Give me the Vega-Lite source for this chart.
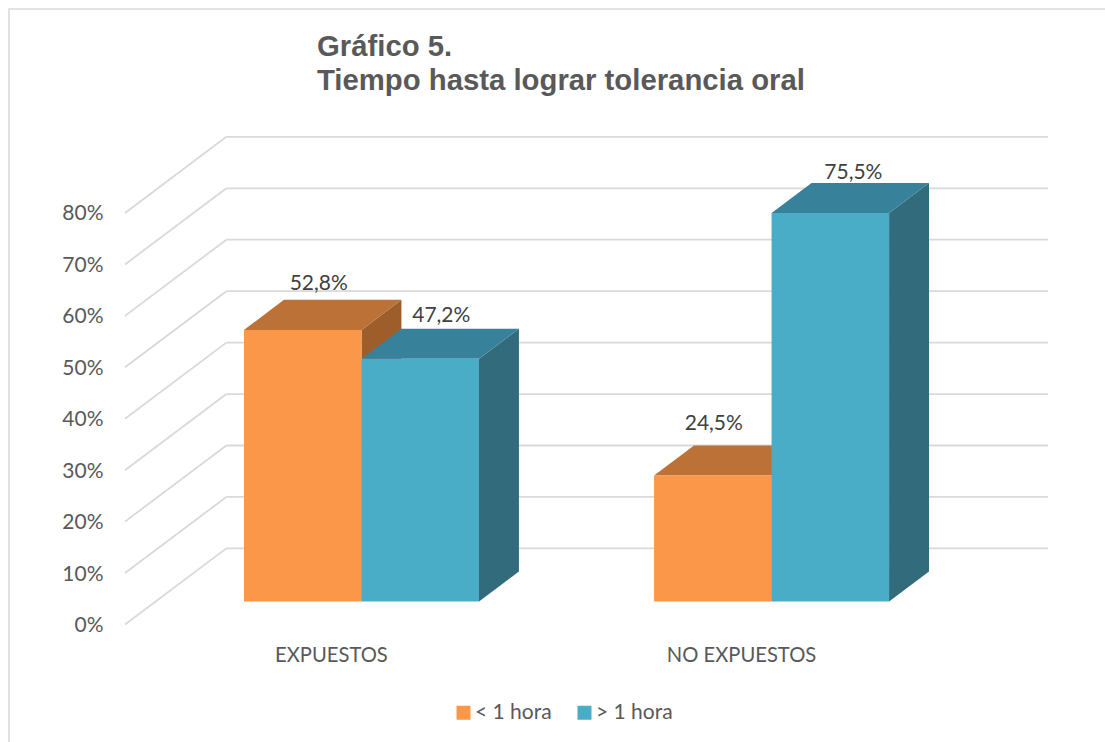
{"$schema":"https://vega.github.io/schema/vega-lite/v6.json","autosize":{"type":"none"},"padding":{"left":9,"top":9,"right":0,"bottom":0},"width":1100,"height":740,"background":"#ffffff","view":{"stroke":"#d9d9d9","strokeWidth":1.5,"fill":"#ffffff"},"title":{"text":["Gráfico 5.","Tiempo hasta lograr tolerancia oral"],"anchor":"start","frame":"group","baseline":"alphabetic","dx":308,"dy":110,"offset":0,"font":"Liberation Sans","fontSize":29.3,"fontWeight":"bold","color":"#595959","lineHeight":34},"data":{"values":[{"group":"EXPUESTOS","series":"< 1 hora","value":52.8},{"group":"EXPUESTOS","series":"> 1 hora","value":47.2},{"group":"NO EXPUESTOS","series":"< 1 hora","value":24.5},{"group":"NO EXPUESTOS","series":"> 1 hora","value":75.5}]},"transform":[{"calculate":"(datum.group==='EXPUESTOS'?2:5.49)+(datum.series==='< 1 hora'?0:1)","as":"left"},{"calculate":"datum.left+1","as":"right"},{"calculate":"4.47","as":"base"},{"calculate":"datum.value+datum.base","as":"top"},{"calculate":"[0,1]","as":"t"},{"flatten":["t"]},{"calculate":"datum.right+0.34*datum.t","as":"sx"},{"calculate":"datum.base+5.84*datum.t","as":"sy0"},{"calculate":"datum.top+5.84*datum.t","as":"sy1"},{"calculate":"datum.left+0.34*datum.t","as":"tx0"},{"calculate":"replace(format(datum.value,'.1f'),'.',',')+'%'","as":"label"},{"calculate":"(datum.left+datum.right)/2+0.17+(datum.value===52.8?-0.034:datum.value===47.2?0.009:datum.value===24.5?-0.162:0.026)","as":"lx"},{"calculate":"datum.top+5.84+(datum.value===52.8?3.1:datum.value===47.2?2.4:datum.value===24.5?4.1:2.0)","as":"ly"}],"layer":[{"data":{"values":[{"pct":0},{"pct":10},{"pct":20},{"pct":30},{"pct":40},{"pct":50},{"pct":60},{"pct":70},{"pct":80}]},"transform":[{"calculate":"datum.pct+14.8","as":"back"},{"calculate":"0.987","as":"x0"},{"calculate":"1.85","as":"x1"}],"mark":{"type":"rule","color":"#d9d9d9","strokeWidth":1.8},"encoding":{"x":{"field":"x0","type":"quantitative","scale":{"domain":[0,9.3617],"nice":false,"zero":false},"axis":{"orient":"bottom","values":[2.74,6.23],"labelExpr":"datum.value<4?'EXPUESTOS':'NO EXPUESTOS'","title":null,"domain":false,"ticks":false,"grid":false,"offset":-104,"labelPadding":0,"labelFont":"Lato","labelFontSize":20.2,"labelColor":"#595959"}},"x2":{"field":"x1"},"y":{"field":"pct","type":"quantitative","scale":{"domain":[-24.2,119.65],"nice":false,"zero":false},"axis":{"orient":"left","values":[0,10,20,30,40,50,60,70,80],"labelExpr":"datum.value+'%'","title":null,"domain":false,"ticks":false,"grid":false,"offset":-94,"labelPadding":0,"labelFont":"Lato","labelFontSize":21,"labelColor":"#595959","labelOffset":1}},"y2":{"field":"back"}}},{"data":{"values":[{"pct":0},{"pct":10},{"pct":20},{"pct":30},{"pct":40},{"pct":50},{"pct":60},{"pct":70},{"pct":80}]},"transform":[{"calculate":"datum.pct+14.8","as":"back"},{"calculate":"1.85","as":"x1"},{"calculate":"8.843","as":"x2"}],"mark":{"type":"rule","color":"#d9d9d9","strokeWidth":1.8},"encoding":{"x":{"field":"x1","type":"quantitative"},"x2":{"field":"x2"},"y":{"field":"back","type":"quantitative"}}},{"transform":[{"filter":"datum.series==='< 1 hora'"}],"mark":{"type":"area","color":"#9e5e2b"},"encoding":{"detail":{"field":"group"},"x":{"field":"sx","type":"quantitative"},"y":{"field":"sy0","type":"quantitative","stack":null},"y2":{"field":"sy1"}}},{"transform":[{"filter":"datum.series==='< 1 hora'"}],"mark":{"type":"area","orient":"horizontal","color":"#bc7136"},"encoding":{"detail":{"field":"group"},"y":{"field":"sy1","type":"quantitative"},"x":{"field":"tx0","type":"quantitative","stack":null},"x2":{"field":"sx"}}},{"transform":[{"filter":"datum.series==='> 1 hora'"}],"mark":{"type":"area","color":"#326c7c"},"encoding":{"detail":{"field":"group"},"x":{"field":"sx","type":"quantitative"},"y":{"field":"sy0","type":"quantitative","stack":null},"y2":{"field":"sy1"}}},{"transform":[{"filter":"datum.series==='> 1 hora'"}],"mark":{"type":"area","orient":"horizontal","color":"#38819a"},"encoding":{"detail":{"field":"group"},"y":{"field":"sy1","type":"quantitative"},"x":{"field":"tx0","type":"quantitative","stack":null},"x2":{"field":"sx"}}},{"transform":[{"filter":"datum.t===0"}],"mark":{"type":"rect"},"encoding":{"x":{"field":"left","type":"quantitative"},"x2":{"field":"right"},"y":{"field":"base","type":"quantitative"},"y2":{"field":"top"},"color":{"field":"series","type":"nominal","scale":{"domain":["< 1 hora","> 1 hora"],"range":["#fb9748","#4aadc8"]},"legend":{"orient":"none","legendX":444,"legendY":693,"direction":"horizontal","title":null,"symbolType":"square","symbolSize":196,"symbolStrokeWidth":0,"symbolOpacity":1,"labelFont":"Lato","labelFontSize":21,"labelColor":"#595959","columnPadding":22,"labelOffset":1,"padding":0}}}},{"transform":[{"filter":"datum.t===0"}],"mark":{"type":"text","font":"Lato","fontSize":21,"color":"#404040","baseline":"middle"},"encoding":{"x":{"field":"lx","type":"quantitative"},"y":{"field":"ly","type":"quantitative"},"text":{"field":"label"}}}]}
